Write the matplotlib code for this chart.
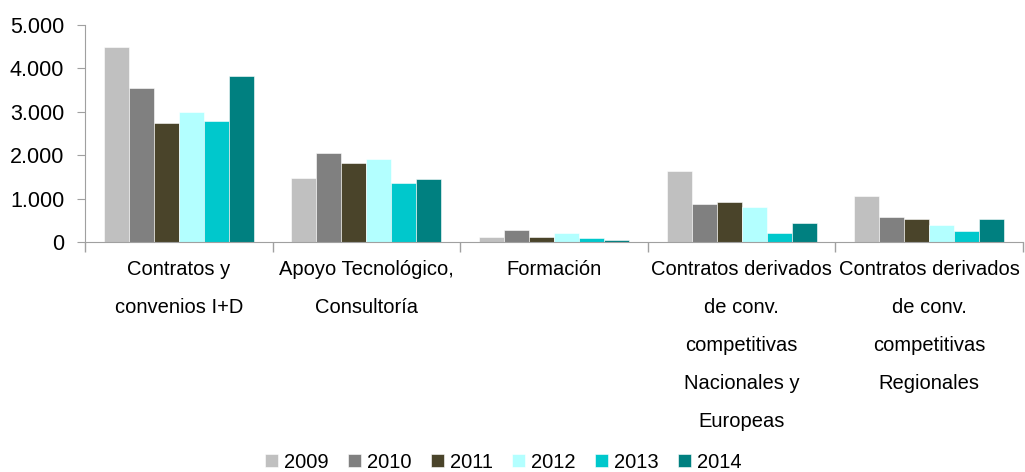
import matplotlib.pyplot as plt
import numpy as np
from matplotlib.ticker import FuncFormatter, MultipleLocator

plt.rcParams['font.family'] = ['Liberation Sans', 'DejaVu Sans']

categories = [
    "Contratos y\nconvenios I+D",
    "Apoyo Tecnológico,\nConsultoría",
    "Formación",
    "Contratos derivados\nde conv.\ncompetitivas\nNacionales y\nEuropeas",
    "Contratos derivados\nde conv.\ncompetitivas\nRegionales",
]
years = ["2009", "2010", "2011", "2012", "2013", "2014"]
values = {
    "2009": [4490, 1485, 110, 1630, 1070],
    "2010": [3540, 2050, 270, 870, 580],
    "2011": [2740, 1820, 110, 920, 530],
    "2012": [3000, 1920, 205, 810, 405],
    "2013": [2800, 1365, 85, 205, 260],
    "2014": [3815, 1460, 40, 435, 530],
}
colors = ["#C0C0C0", "#808080", "#4A442A", "#B3FFFF", "#00C8CC", "#008080"]

fig = plt.figure(figsize=(10.25, 4.72), dpi=100)
ax = fig.add_axes([0.083, 0.487, 0.915, 0.46])

x = np.arange(len(categories))
w = 0.8 / len(years)
for i, (yr, c) in enumerate(zip(years, colors)):
    ax.bar(x - 0.4 + w * (i + 0.5), values[yr], width=w, color=c, label=yr,
           edgecolor='white', linewidth=0.4)

ax.set_xlim(-0.5, len(categories) - 0.5)
ax.set_ylim(0, 5000)
ax.yaxis.set_major_locator(MultipleLocator(1000))
ax.yaxis.set_major_formatter(FuncFormatter(lambda v, p: f"{int(v):,}".replace(",", ".")))

ax.set_xticks(x)
ax.set_xticklabels(categories, linespacing=2.27, fontsize=14.5)
ax.set_xticks(np.arange(-0.5, len(categories)), minor=True)
ax.tick_params(axis='x', which='major', length=0, pad=13)
ax.tick_params(axis='x', which='minor', length=7, color='#A0A0A0', width=1)
ax.tick_params(axis='y', length=6, color='#A0A0A0', labelsize=15.5, pad=9)

for s in ['top', 'right']:
    ax.spines[s].set_visible(False)
for s in ['left', 'bottom']:
    ax.spines[s].set_color('#A0A0A0')

fig.legend(loc='center', bbox_to_anchor=(0.491, 0.021), ncol=6, frameon=False,
           fontsize=14.5, handlelength=0.65, handleheight=0.65, handletextpad=0.3,
           columnspacing=0.95, borderpad=0, borderaxespad=0)

fig.savefig("out.png", dpi=100)
